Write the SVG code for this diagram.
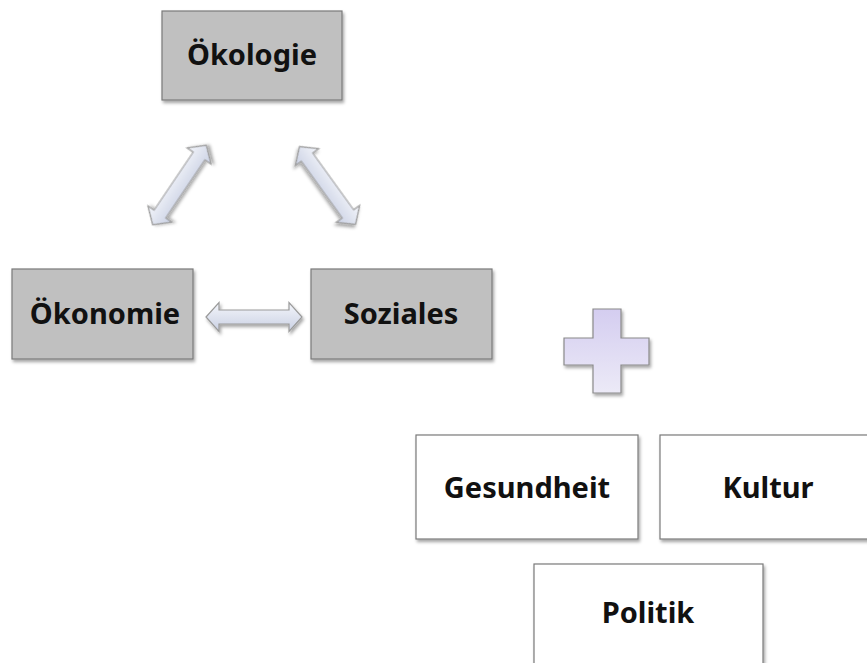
<svg xmlns="http://www.w3.org/2000/svg" width="867" height="663" viewBox="0 0 867 663">
<defs>
<filter id="sh" x="-10%" y="-10%" width="125%" height="130%">
<feDropShadow dx="1.5" dy="2.5" stdDeviation="1.8" flood-color="#000" flood-opacity="0.35"/>
</filter>
<linearGradient id="ag" x1="0" y1="0" x2="0" y2="1">
<stop offset="0" stop-color="#f4f6fb"/>
<stop offset="1" stop-color="#c9d0e3"/>
</linearGradient>
<linearGradient id="pg" x1="0" y1="0" x2="0" y2="1">
<stop offset="0" stop-color="#d4cdf0"/>
<stop offset="1" stop-color="#eceaf7"/>
</linearGradient>
<path id="dbl" d="M-48,0 L-35,-14.5 L-35,-7 L35,-7 L35,-14.5 L48,0 L35,14.5 L35,7 L-35,7 L-35,14.5 Z"/>
</defs>
<style>
.g{fill:#c0c0c0;stroke:#7a7a7a;stroke-width:1.2;filter:url(#sh)}
.w{fill:#fff;stroke:#7a7a7a;stroke-width:1.2;filter:url(#sh)}
.t{font-family:"Noto Sans","Open Sans",sans-serif;font-weight:bold;font-size:29px;fill:#111;text-anchor:middle}
.a{fill:url(#ag);stroke:#9a9a9a;stroke-width:1.2;filter:url(#sh)}
</style>
<rect width="867" height="663" fill="#fff"/>
<g id="connectors">
<use href="#dbl" class="a" transform="translate(179.5,185) rotate(-56)"/>
<use href="#dbl" class="a" transform="translate(327.5,185.5) rotate(54.2)"/>
<use href="#dbl" class="a" transform="translate(254,317)"/>
</g>
<g id="oekologie">
<rect class="g" x="162" y="11" width="180" height="89"/>
<text class="t" x="252" y="65">Ökologie</text>
</g>
<g id="oekonomie">
<rect class="g" x="12" y="269" width="181" height="90"/>
<text class="t" x="105" y="324">Ökonomie</text>
</g>
<g id="soziales">
<rect class="g" x="311" y="269" width="181" height="90"/>
<text class="t" x="401" y="324">Soziales</text>
</g>
<g id="plus">
<path d="M593,309 L621,309 L621,338 L649,338 L649,365 L621,365 L621,393 L593,393 L593,365 L564,365 L564,338 L593,338 Z" fill="url(#pg)" stroke="#8a8a8a" stroke-width="1.2" filter="url(#sh)"/>
</g>
<g id="gesundheit">
<rect class="w" x="416" y="435" width="222" height="104"/>
<text class="t" x="527" y="498">Gesundheit</text>
</g>
<g id="kultur">
<rect class="w" x="660" y="435" width="220" height="104"/>
<text class="t" x="768" y="498">Kultur</text>
</g>
<g id="politik">
<rect class="w" x="534" y="564" width="229" height="110"/>
<text class="t" x="648" y="623">Politik</text>
</g>
</svg>
